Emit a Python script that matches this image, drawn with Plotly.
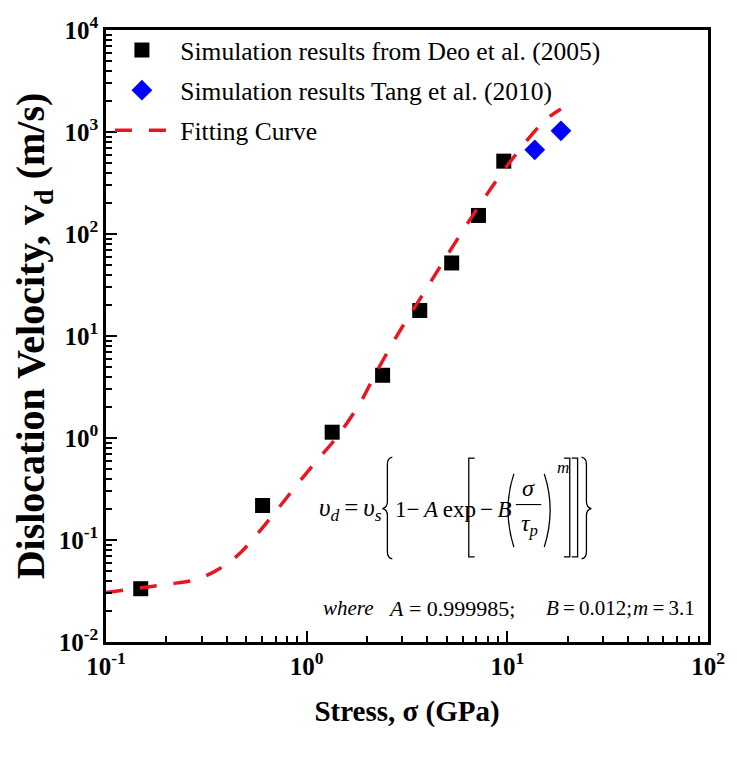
import plotly.graph_objects as go

# ---------------- data ----------------
deo_stress = [0.149, 0.603, 1.34, 2.39, 3.66, 5.28, 7.18, 9.6]
deo_velocity = [0.0333, 0.218, 1.14, 4.12, 17.8, 52, 152, 518]

tang_stress = [13.7, 18.5]
tang_velocity = [668, 1027]

fit_stress = [0.1, 0.198, 0.288, 0.389, 0.469, 0.565, 0.682, 0.854, 1.11, 1.39,
              1.81, 2.26, 2.83, 3.90, 5.36, 7.38, 10.3, 15.3, 18.5]
fit_velocity = [0.0306, 0.0366, 0.0416, 0.056, 0.0754, 0.1135, 0.1775, 0.31, 0.583, 0.98,
                2.07, 4.67, 10.2, 27.9, 76, 200, 506, 1284, 1678]

x_tickvals = [0.1, 1, 10, 100]
x_ticktext = ["<b>10<sup>-1</sup></b>", "<b>10<sup>0</sup></b>", "<b>10<sup>1</sup></b>",
              "<b>10<sup>2</sup></b>"]
y_tickvals = [0.01, 0.1, 1, 10, 100, 1000, 10000]
y_ticktext = ["<b>10<sup>-2</sup></b>", "<b>10<sup>-1</sup></b>", "<b>10<sup>0</sup></b>",
              "<b>10<sup>1</sup></b>", "<b>10<sup>2</sup></b>", "<b>10<sup>3</sup></b>",
              "<b>10<sup>4</sup></b>"]
minor_digits = [2, 3, 4, 5, 6, 7, 8, 9]
x_decades = [0.1, 1, 10]
y_decades = [0.01, 0.1, 1, 10, 100, 1000]
x_minor = [d * m for d in x_decades for m in minor_digits]
y_minor = [d * m for d in y_decades for m in minor_digits]

legend_names = [" Simulation results from Deo et al. (2005)",
                " Simulation results Tang et al. (2010)",
                " Fitting Curve"]

# ---------------- layout geometry ----------------
W, H = 737, 761
L, R, T, B = 106, 720, 23, 642
FONT = "Liberation Serif, Times New Roman, serif"


def px(x):
    return (x - L) / (R - L)


def py(y):
    return (B - y) / (B - T)


fig = go.Figure()

fig.add_trace(go.Scatter(
    x=deo_stress, y=deo_velocity, mode="markers", name=legend_names[0],
    legendgroup="a",
    marker=dict(symbol="square", size=15, color="black"),
))
fig.add_trace(go.Scatter(
    x=tang_stress, y=tang_velocity, mode="markers", name=legend_names[1],
    legendgroup="b",
    marker=dict(symbol="diamond", size=16, color="#0000ff"),
))
fig.add_trace(go.Scatter(
    x=fit_stress, y=fit_velocity, mode="lines", name=legend_names[2],
    legendgroup="c",
    line=dict(color="#e8171f", width=3.5, dash="17px,17px", shape="spline"),
))

fig.update_xaxes(
    type="log", range=[-1, 2], showgrid=False, zeroline=False,
    showline=True, linecolor="black", linewidth=2.5, mirror=True,
    tickmode="array", tickvals=x_tickvals, ticktext=x_ticktext,
    ticks="inside", ticklen=11, tickwidth=2, tickcolor="black",
    tickfont=dict(family=FONT, size=25, color="black"),
    minor=dict(ticks="inside", ticklen=6, tickwidth=1.5, tickcolor="black",
               tickvals=x_minor),
    title=dict(text="<b>Stress, σ (GPa)</b>", font=dict(family=FONT, size=29, color="black"),
               standoff=22),
)
fig.update_yaxes(
    type="log", range=[-2, 4], showgrid=False, zeroline=False,
    showline=True, linecolor="black", linewidth=2.5, mirror=True,
    tickmode="array", tickvals=y_tickvals, ticktext=y_ticktext,
    ticks="inside", ticklen=11, tickwidth=2, tickcolor="black",
    tickfont=dict(family=FONT, size=25, color="black"),
    minor=dict(ticks="inside", ticklen=6, tickwidth=1.5, tickcolor="black",
               tickvals=y_minor),
    title=dict(text="<b>Dislocation Velocity, v<sub>d</sub> (m/s)</b>",
               font=dict(family=FONT, size=40, color="black"), standoff=2),
)

# ---------------- equation (text + drawn brackets) ----------------
ann = []


def txt(x, y, s, anchor="left", size=23, yanchor="middle"):
    ann.append(dict(x=px(x), y=py(y), xref="paper", yref="paper", text=s,
                    showarrow=False, xanchor=anchor, yanchor=yanchor,
                    font=dict(family=FONT, size=size, color="black")))


TS = "\u2009"  # thin space
txt(321, 508, f"<i>υ</i><sub><i>d</i></sub>{TS}={TS}<i>υ</i><sub><i>s</i></sub>", size=25)
txt(399, 508, f"1−{TS}<i>A</i>{TS}exp", size=23)
txt(485, 508, f"−{TS}<i>B</i>", size=23)
txt(537, 486, "<i>σ</i>", anchor="center", size=24)
txt(538, 524, "<i>τ</i><sub><i>p</i></sub>", anchor="center", size=24)
txt(564, 465, "<i>m</i>", size=17)

txt(325, 608, "<i>where</i>", size=21)
txt(392, 608, "<i>A</i> = 0.999985;", size=22)
txt(553, 608, f"<i>B</i>{TS}={TS}0.012;", size=21)
txt(709, 608, f"<i>m</i>{TS}={TS}3.1", anchor="right", size=21)


def pth(points):
    out = []
    for p in points:
        cmd = p[0]
        coords = p[1:]
        conv = []
        for i in range(0, len(coords), 2):
            conv.append(f"{px(coords[i]):.5f},{py(coords[i + 1]):.5f}")
        out.append(cmd + " " + " ".join(conv))
    return " ".join(out)


shapes = []
lw = 1.3


def add_path(points, width=lw):
    shapes.append(dict(type="path", xref="paper", yref="paper", path=pth(points),
                       line=dict(color="black", width=width)))


add_path([("M", 398, 455), ("Q", 393, 456, 393, 462), ("L", 393, 500),
          ("Q", 393, 506, 388, 507), ("Q", 393, 508, 393, 514), ("L", 393, 551),
          ("Q", 393, 557, 398, 558)])
add_path([("M", 591, 455), ("Q", 596, 456, 596, 462), ("L", 596, 500),
          ("Q", 596, 506, 601, 507), ("Q", 596, 508, 596, 514), ("L", 596, 551),
          ("Q", 596, 557, 591, 558)])
add_path([("M", 482, 456), ("L", 476, 456), ("L", 476, 556), ("L", 482, 556)])
add_path([("M", 573, 456), ("L", 579, 456), ("L", 579, 556), ("L", 573, 556)])
add_path([("M", 581, 456), ("L", 587, 456), ("L", 587, 556), ("L", 581, 556)])
add_path([("M", 522, 472), ("Q", 510, 508, 522, 546)])
add_path([("M", 553, 472), ("Q", 565, 508, 553, 546)])
add_path([("M", 524, 503), ("L", 550, 503)], width=1.1)

fig.update_layout(
    width=W, height=H,
    margin=dict(l=L, r=W - R, t=T, b=H - B, pad=0),
    paper_bgcolor="white", plot_bgcolor="white",
    font=dict(family=FONT, color="black"),
    showlegend=True,
    legend=dict(x=px(110), y=1.005, xanchor="left", yanchor="top",
                bgcolor="rgba(0,0,0,0)", borderwidth=0,
                font=dict(family=FONT, size=25.5, color="black"),
                itemwidth=54, tracegroupgap=4, traceorder="grouped"),
    annotations=ann,
    shapes=shapes,
)

fig.write_html("out.html")
